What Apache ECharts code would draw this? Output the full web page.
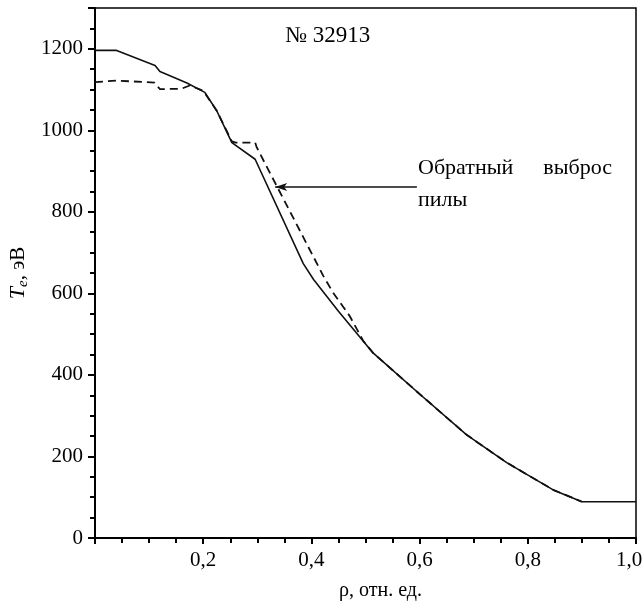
<!DOCTYPE html>
<html>
<head>
<meta charset="utf-8">
<script src="https://cdn.jsdelivr.net/npm/echarts@6/dist/echarts.min.js"></script>
<style>
html,body{margin:0;padding:0;background:#fff;}
#chart{width:643px;height:603px;}
</style>
</head>
<body>
<div id="chart"></div>
<script>
// Solid curve: T_e profile
var rhoSolid = [0, 0.04, 0.111, 0.12, 0.17, 0.203, 0.225, 0.253, 0.296, 0.385, 0.404, 0.45, 0.514, 0.601, 0.687, 0.761, 0.847, 0.9, 1.0];
var teSolid  = [1196, 1196, 1159, 1144, 1116, 1093, 1048, 970, 929, 673, 634, 556, 454, 352, 253, 185, 118, 89, 89];
// Dashed curve: profile with sawtooth inversion
var rhoDashed = [0, 0.04, 0.11, 0.12, 0.16, 0.175, 0.2, 0.225, 0.253, 0.26, 0.296, 0.299, 0.422, 0.44, 0.471, 0.496, 0.514, 0.601, 0.687, 0.761, 0.847, 0.9];
var teDashed  = [1118, 1122, 1117, 1101, 1102, 1110, 1097, 1048, 973, 970, 970, 958, 643, 602, 544, 483, 454, 352, 253, 185, 118, 89];
// Axis ticks
var xTicks = [0.2, 0.4, 0.6, 0.8, 1.0];
var yTicks = [0, 200, 400, 600, 800, 1000, 1200];
// Annotation arrow (data coords)
var arrowFrom = [0.595, 861];
var arrowTo = [0.333, 861];

function pairs(xs, ys){ return xs.map(function(x,i){ return [x, ys[i]]; }); }

var FONT = 'Liberation Serif';
var chart = echarts.init(document.getElementById('chart'), null, {renderer:'canvas'});
chart.setOption({
  animation: false,
  backgroundColor: '#fff',
  grid: {left: 95, right: 7, top: 8, bottom: 65, containLabel: false, outerBoundsMode: 'none',
    show: true, borderColor: '#000', borderWidth: 1.5, backgroundColor: 'transparent'},
  xAxis: {
    type: 'value', min: 0, max: 1, interval: 0.2,
    name: 'ρ, отн. ед.', nameLocation: 'middle', nameGap: 43,
    nameTextStyle: {fontFamily: FONT, fontSize: 20, color: '#000', padding: [0,0,0,30]},
    axisLine: {show: true, onZero: false, lineStyle: {color: '#000', width: 2}},
    axisTick: {show: true, length: 6, lineStyle: {color: '#000', width: 2}},
    minorTick: {show: true, splitNumber: 4, length: 5, lineStyle: {color: '#000', width: 2}},
    splitLine: {show: false},
    axisLabel: {margin: 12, fontFamily: FONT, fontSize: 21, color: '#000', hideOverlap: false,
      rich: {r: {fontFamily: FONT, fontSize: 21, color: '#000', padding: [0, 14, 0, 0]}},
      formatter: function(v){
        var r = Math.round(v*10)/10;
        if (xTicks.indexOf(r) < 0) return '';
        var s = v.toFixed(1).replace('.', ',');
        return r === 1 ? '{r|' + s + '}' : s;
      }}
  },
  yAxis: {
    type: 'value', min: 0, max: 1300, interval: 200,
    name: '{t|T}{s|e}{n|, эВ}', nameLocation: 'middle', nameGap: 64, nameRotate: 90,
    nameTextStyle: {fontFamily: FONT, fontSize: 21, color: '#000',
      rich: {
        t: {fontFamily: FONT, fontSize: 22, fontStyle: 'italic', color: '#000'},
        s: {fontFamily: FONT, fontSize: 15, fontStyle: 'italic', color: '#000', verticalAlign: 'bottom', padding: [8,0,0,0]},
        n: {fontFamily: FONT, fontSize: 21, color: '#000'}
      }},
    axisLine: {show: true, onZero: false, lineStyle: {color: '#000', width: 2}},
    axisTick: {show: true, length: 7, lineStyle: {color: '#000', width: 2}},
    minorTick: {show: true, splitNumber: 4, length: 5, lineStyle: {color: '#000', width: 2}},
    splitLine: {show: false},
    axisLabel: {margin: 12, fontFamily: FONT, fontSize: 21, color: '#000', showMaxLabel: false,
      formatter: function(v){ return yTicks.indexOf(v) >= 0 ? String(v) : ''; }}
  },
  series: [
    {
      type: 'line', name: 'dashed', data: pairs(rhoDashed, teDashed), showSymbol: false, symbol: 'none',
      lineStyle: {color: '#111', width: 1.8, type: [8, 5]}, z: 2
    },
    {
      type: 'line', name: 'solid', data: pairs(rhoSolid, teSolid), showSymbol: false, symbol: 'none',
      lineStyle: {color: '#111', width: 1.6}, z: 3,
      markLine: {
        silent: true, symbol: ['none', 'arrow'], symbolSize: [6, 12],
        label: {show: false},
        lineStyle: {color: '#111', width: 1.5, type: 'solid'},
        data: [[{coord: arrowFrom}, {coord: arrowTo}]]
      }
    }
  ],
  graphic: [
    {type: 'text', left: 285, top: 24, style: {text: '№ 32913', fontFamily: FONT, fontSize: 23, fill: '#000'}},
    {type: 'text', left: 418, top: 157, style: {text: 'Обратный', fontFamily: FONT, fontSize: 22, fill: '#000'}},
    {type: 'text', right: 643-612, top: 157, style: {text: 'выброс', fontFamily: FONT, fontSize: 22, fill: '#000', align: 'right'}},
    {type: 'text', left: 418, top: 189, style: {text: 'пилы', fontFamily: FONT, fontSize: 22, fill: '#000'}}
  ]
});
</script>
</body>
</html>
